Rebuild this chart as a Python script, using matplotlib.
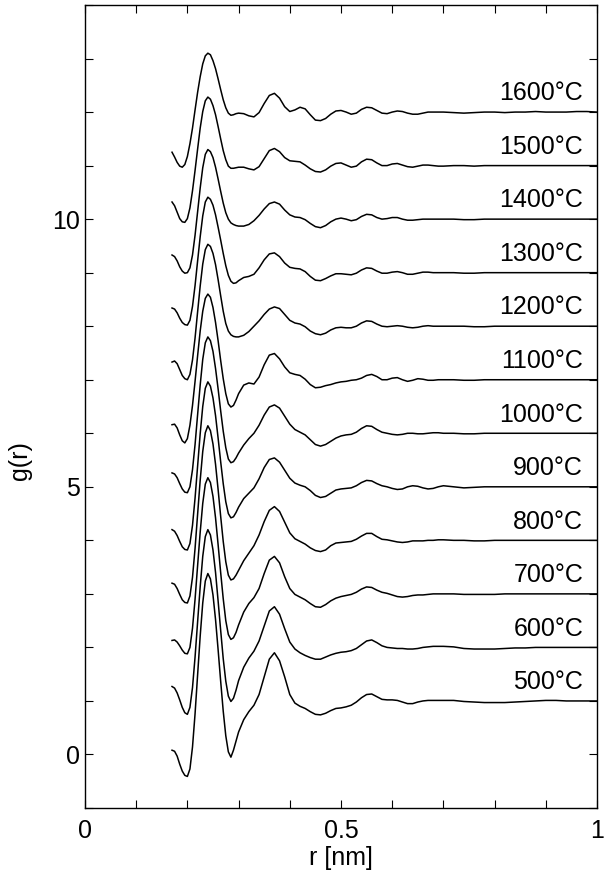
import numpy as np
import matplotlib
matplotlib.use('Agg')
import matplotlib.pyplot as plt
from matplotlib.ticker import MultipleLocator, FuncFormatter

plt.rcParams['font.family'] = ['Liberation Sans', 'DejaVu Sans']

# sample positions r [nm]
r = [0.170, 0.175, 0.180, 0.185, 0.190, 0.195, 0.200, 0.205, 0.210, 0.215,
     0.220, 0.225, 0.230, 0.235, 0.240, 0.245, 0.250, 0.255, 0.260, 0.265,
     0.270, 0.275, 0.280, 0.285, 0.290, 0.295, 0.300,
     0.31, 0.32, 0.33, 0.34, 0.35, 0.36, 0.37, 0.38, 0.39, 0.40,
     0.41, 0.42, 0.43, 0.44, 0.45, 0.46, 0.47, 0.48, 0.49, 0.50,
     0.51, 0.52, 0.53, 0.54, 0.55, 0.56, 0.57, 0.58, 0.59, 0.60,
     0.61, 0.62, 0.63, 0.64, 0.65, 0.66, 0.67, 0.68, 0.69, 0.70,
     0.72, 0.74, 0.76, 0.78, 0.80, 0.82, 0.84, 0.86, 0.88, 0.90,
     0.92, 0.94, 0.96, 0.98, 1.00]

temps = [500, 600, 700, 800, 900, 1000, 1100, 1200, 1300, 1400, 1500, 1600]

# g(r) (each curve is shifted up by 1 per temperature step)
g_500 = [0.08, 0.06, -0.03, -0.18, -0.31, -0.39, -0.41, -0.27, 0.14, 0.76,
         1.49, 2.21, 2.83, 3.24, 3.38, 3.28, 2.98, 2.52, 1.96, 1.37,
         0.81, 0.35, 0.05, -0.05, 0.08, 0.25, 0.42,
         0.65, 0.80, 0.92, 1.12, 1.45, 1.78, 1.90, 1.75, 1.45, 1.12,
         0.96, 0.90, 0.86, 0.80, 0.75, 0.74, 0.77, 0.82, 0.86, 0.87,
         0.89, 0.92, 0.98, 1.06, 1.12, 1.13, 1.08, 1.03, 1.02, 1.02,
         1.01, 0.98, 0.95, 0.95, 0.98, 1.00, 1.01, 1.01, 1.01, 1.01,
         1.01, 0.99, 0.98, 0.97, 0.97, 0.97, 0.98, 0.99, 1.00, 1.01,
         1.01, 1.00, 1.00, 1.00, 1.00]
g_600 = [0.27, 0.24, 0.15, 0.02, -0.12, -0.22, -0.25, -0.12, 0.25, 0.82,
         1.48, 2.13, 2.70, 3.07, 3.20, 3.10, 2.82, 2.40, 1.87, 1.32,
         0.79, 0.37, 0.09, -0.01, 0.05, 0.20, 0.38,
         0.63, 0.80, 0.93, 1.12, 1.40, 1.68, 1.76, 1.62, 1.35, 1.10,
         0.97, 0.90, 0.85, 0.81, 0.78, 0.78, 0.82, 0.86, 0.89, 0.91,
         0.92, 0.94, 0.98, 1.05, 1.12, 1.14, 1.09, 1.03, 1.00, 0.99,
         0.98, 0.98, 0.97, 0.97, 0.98, 1.00, 1.01, 1.02, 1.02, 1.02,
         1.01, 0.98, 0.97, 0.97, 0.97, 0.98, 0.99, 0.99, 1.00, 1.00,
         1.00, 1.00, 1.00, 1.00, 1.00]
g_700 = [0.13, 0.14, 0.10, 0.03, -0.05, -0.11, -0.12, 0.00, 0.36, 0.90,
         1.53, 2.15, 2.69, 3.05, 3.17, 3.08, 2.82, 2.42, 1.92, 1.40,
         0.91, 0.50, 0.24, 0.15, 0.18, 0.28, 0.42,
         0.66, 0.82, 0.93, 1.10, 1.38, 1.63, 1.70, 1.58, 1.32, 1.10,
         0.99, 0.94, 0.89, 0.82, 0.76, 0.75, 0.80, 0.87, 0.92, 0.95,
         0.97, 0.99, 1.03, 1.09, 1.13, 1.12, 1.07, 1.03, 1.01, 0.98,
         0.95, 0.94, 0.95, 0.97, 0.98, 0.98, 0.99, 1.00, 1.00, 1.00,
         1.00, 0.99, 0.99, 0.99, 0.99, 1.00, 1.00, 1.00, 1.00, 1.00,
         1.00, 1.00, 1.00, 1.00, 1.00]
g_800 = [0.20, 0.18, 0.10, -0.01, -0.11, -0.16, -0.17, -0.04, 0.31, 0.85,
         1.49, 2.12, 2.66, 3.01, 3.14, 3.05, 2.80, 2.42, 1.95, 1.45,
         0.98, 0.60, 0.35, 0.26, 0.28, 0.35, 0.44,
         0.62, 0.76, 0.90, 1.10, 1.35, 1.56, 1.63, 1.54, 1.34, 1.14,
         1.03, 0.98, 0.93, 0.86, 0.81, 0.79, 0.82, 0.90, 0.95, 0.96,
         0.97, 0.98, 1.02, 1.08, 1.13, 1.13, 1.07, 1.02, 1.01, 0.99,
         0.97, 0.96, 0.97, 0.99, 0.99, 0.99, 1.00, 1.00, 1.01, 1.01,
         1.00, 1.00, 0.99, 0.99, 1.00, 1.00, 1.00, 1.00, 1.00, 1.00,
         1.00, 1.00, 1.00, 1.00, 1.00]
g_900 = [0.20, 0.17, 0.09, -0.02, -0.12, -0.17, -0.18, -0.06, 0.28, 0.79,
         1.39, 1.99, 2.50, 2.84, 2.96, 2.88, 2.66, 2.33, 1.91, 1.47,
         1.06, 0.72, 0.50, 0.42, 0.44, 0.52, 0.62,
         0.78, 0.88, 0.98, 1.15, 1.36, 1.51, 1.54, 1.46, 1.31, 1.16,
         1.07, 1.03, 1.00, 0.93, 0.84, 0.80, 0.82, 0.88, 0.94, 0.96,
         0.97, 0.98, 1.02, 1.08, 1.12, 1.11, 1.06, 1.02, 1.00, 0.97,
         0.95, 0.96, 1.00, 1.02, 1.01, 0.98, 0.96, 0.97, 1.00, 1.02,
         1.00, 0.98, 0.99, 1.00, 1.00, 1.00, 1.00, 1.00, 1.00, 1.00,
         1.00, 1.00, 1.00, 1.00, 1.00]
g_1000 = [0.26, 0.24, 0.17, 0.06, -0.04, -0.10, -0.11, 0.00, 0.32, 0.79,
          1.35, 1.90, 2.38, 2.69, 2.80, 2.73, 2.53, 2.21, 1.83, 1.42,
          1.04, 0.73, 0.52, 0.45, 0.47, 0.54, 0.63,
          0.78, 0.90, 1.00, 1.15, 1.34, 1.49, 1.53, 1.47, 1.32, 1.17,
          1.07, 1.02, 0.97, 0.88, 0.79, 0.76, 0.79, 0.85, 0.91, 0.95,
          0.97, 0.98, 1.02, 1.09, 1.14, 1.13, 1.07, 1.02, 1.00, 0.98,
          0.97, 0.98, 1.00, 1.00, 0.99, 0.99, 1.00, 1.01, 1.01, 1.00,
          1.00, 0.99, 0.99, 1.00, 1.00, 1.00, 1.00, 1.00, 1.00, 1.00,
          1.00, 1.00, 1.00, 1.00, 1.00]
g_1100 = [0.16, 0.17, 0.10, -0.03, -0.14, -0.18, -0.10, 0.15, 0.52, 0.97,
          1.45, 1.91, 2.28, 2.52, 2.60, 2.54, 2.35, 2.07, 1.73, 1.36,
          1.02, 0.74, 0.55, 0.49, 0.52, 0.62, 0.74,
          0.90, 0.94, 0.92, 1.05, 1.28, 1.46, 1.49, 1.39, 1.24, 1.13,
          1.10, 1.08, 1.01, 0.91, 0.85, 0.86, 0.89, 0.91, 0.94, 0.96,
          0.97, 0.99, 1.00, 1.03, 1.08, 1.10, 1.06, 1.00, 1.00, 1.03,
          1.04, 1.00, 0.97, 0.99, 1.02, 1.01, 0.99, 0.99, 1.00, 1.00,
          1.00, 0.99, 0.99, 1.00, 1.00, 1.00, 1.00, 1.00, 1.00, 1.00,
          1.00, 1.00, 1.00, 1.00, 1.00]
g_1200 = [0.33, 0.35, 0.30, 0.19, 0.08, 0.02, 0.00, 0.10, 0.37, 0.78,
          1.27, 1.75, 2.16, 2.43, 2.53, 2.49, 2.36, 2.15, 1.87, 1.57,
          1.28, 1.05, 0.91, 0.84, 0.81, 0.80, 0.80,
          0.83, 0.90, 1.00, 1.10, 1.22, 1.32, 1.36, 1.33, 1.22, 1.11,
          1.06, 1.04, 0.99, 0.91, 0.86, 0.84, 0.87, 0.93, 0.97, 0.98,
          0.97, 0.97, 1.00, 1.06, 1.10, 1.09, 1.04, 1.00, 0.99, 1.00,
          1.01, 1.00, 0.98, 0.97, 0.98, 1.00, 1.01, 1.00, 1.00, 1.00,
          1.00, 1.00, 0.99, 0.99, 1.00, 1.00, 1.00, 1.00, 1.00, 1.00,
          1.00, 1.00, 1.00, 1.00, 1.00]
g_1300 = [0.34, 0.32, 0.25, 0.15, 0.07, 0.03, 0.02, 0.11, 0.37, 0.76,
          1.22, 1.67, 2.06, 2.32, 2.41, 2.37, 2.26, 2.08, 1.85, 1.61,
          1.36, 1.13, 0.95, 0.84, 0.80, 0.81, 0.85,
          0.91, 0.93, 0.97, 1.09, 1.24, 1.35, 1.37, 1.30, 1.18, 1.10,
          1.08, 1.07, 1.02, 0.93, 0.86, 0.85, 0.89, 0.94, 0.98, 0.98,
          0.97, 0.96, 0.99, 1.05, 1.09, 1.08, 1.03, 0.99, 0.99, 1.01,
          1.02, 1.00, 0.97, 0.97, 0.99, 1.01, 1.01, 1.00, 1.00, 1.00,
          1.00, 0.99, 0.99, 1.00, 1.00, 1.00, 1.00, 1.00, 1.00, 1.00,
          1.00, 1.00, 1.00, 1.00, 1.00]
g_1400 = [0.33, 0.30, 0.22, 0.11, 0.03, -0.01, 0.00, 0.09, 0.33, 0.70,
          1.14, 1.58, 1.96, 2.21, 2.30, 2.26, 2.15, 1.97, 1.75, 1.52,
          1.30, 1.12, 1.00, 0.93, 0.90, 0.88, 0.87,
          0.87, 0.90, 0.97, 1.07, 1.19, 1.29, 1.32, 1.28, 1.17, 1.08,
          1.04, 1.03, 0.99, 0.92, 0.86, 0.84, 0.88, 0.95, 1.00, 1.02,
          1.00, 0.97, 0.99, 1.05, 1.09, 1.08, 1.03, 1.00, 1.01, 1.03,
          1.03, 1.00, 0.98, 0.98, 0.99, 1.00, 1.00, 1.00, 1.00, 1.00,
          1.00, 0.99, 0.99, 1.00, 1.00, 1.00, 1.00, 1.00, 1.00, 1.00,
          1.00, 1.00, 1.00, 1.00, 1.00]
g_1500 = [0.32, 0.25, 0.13, 0.01, -0.05, -0.06, 0.01, 0.21, 0.53, 0.91,
          1.31, 1.70, 2.01, 2.21, 2.28, 2.24, 2.12, 1.95, 1.73, 1.50,
          1.28, 1.11, 0.99, 0.95, 0.95, 0.96, 0.97,
          0.97, 0.94, 0.92, 0.98, 1.13, 1.28, 1.32, 1.26, 1.15, 1.09,
          1.08, 1.07, 1.01, 0.94, 0.89, 0.88, 0.92, 0.99, 1.04, 1.05,
          1.01, 0.97, 0.99, 1.07, 1.12, 1.11, 1.05, 1.00, 1.00, 1.03,
          1.04, 1.01, 0.98, 0.97, 0.99, 1.01, 1.01, 1.00, 0.99, 0.99,
          1.00, 1.00, 0.99, 1.00, 1.00, 1.00, 1.00, 1.00, 1.00, 1.00,
          1.00, 1.00, 1.00, 1.00, 1.00]
g_1600 = [0.25, 0.16, 0.06, -0.01, -0.03, 0.02, 0.17, 0.41, 0.70, 1.04,
          1.37, 1.66, 1.90, 2.05, 2.10, 2.07, 1.96, 1.81, 1.62, 1.42,
          1.23, 1.08, 0.98, 0.94, 0.95, 0.97, 0.98,
          0.97, 0.93, 0.91, 0.99, 1.16, 1.31, 1.35, 1.26, 1.10, 1.01,
          1.04, 1.09, 1.06, 0.95, 0.85, 0.84, 0.88, 0.96, 1.02, 1.03,
          1.00, 0.96, 0.98, 1.05, 1.09, 1.08, 1.03, 0.98, 0.97, 1.00,
          1.02, 1.01, 0.98, 0.96, 0.96, 0.98, 1.00, 1.00, 1.00, 1.00,
          0.99, 0.98, 0.99, 1.00, 1.00, 0.99, 1.00, 1.00, 1.01, 1.00,
          1.00, 1.00, 1.01, 1.01, 1.00]

curves = [g_500, g_600, g_700, g_800, g_900, g_1000,
          g_1100, g_1200, g_1300, g_1400, g_1500, g_1600]

fig = plt.figure(figsize=(6.1, 8.76), dpi=100)
ax = fig.add_axes([0.1393, 0.0776, 0.8394, 0.9167])

for i, (t, g) in enumerate(zip(temps, curves)):
    ax.plot(r, np.array(g) + i, color='black', lw=1.1)
    ax.text(0.973, i + 1.35, f'{t}°C', ha='right', va='center', fontsize=18)

ax.set_xlim(0, 1)
ax.set_ylim(-1, 14)
ax.xaxis.set_major_locator(MultipleLocator(0.5))
ax.xaxis.set_minor_locator(MultipleLocator(0.1))
ax.yaxis.set_major_locator(MultipleLocator(5))
ax.yaxis.set_minor_locator(MultipleLocator(1))
ax.xaxis.set_major_formatter(FuncFormatter(lambda v, p: f'{v:g}'))
ax.tick_params(which='both', direction='in', top=True, right=True,
               length=6, width=0.8, labelsize=18)
ax.tick_params(axis='x', pad=8)
for s in ax.spines.values():
    s.set_linewidth(1.0)

ax.set_xlabel('r [nm]', fontsize=18)
ax.xaxis.set_label_coords(0.5, -0.062)
ax.xaxis.label.set_va('center')
ax.set_ylabel('g(r)', fontsize=18)
ax.yaxis.set_label_coords(-0.127, 0.433)
ax.yaxis.label.set_va('center')

fig.savefig('out.png', dpi=100)
